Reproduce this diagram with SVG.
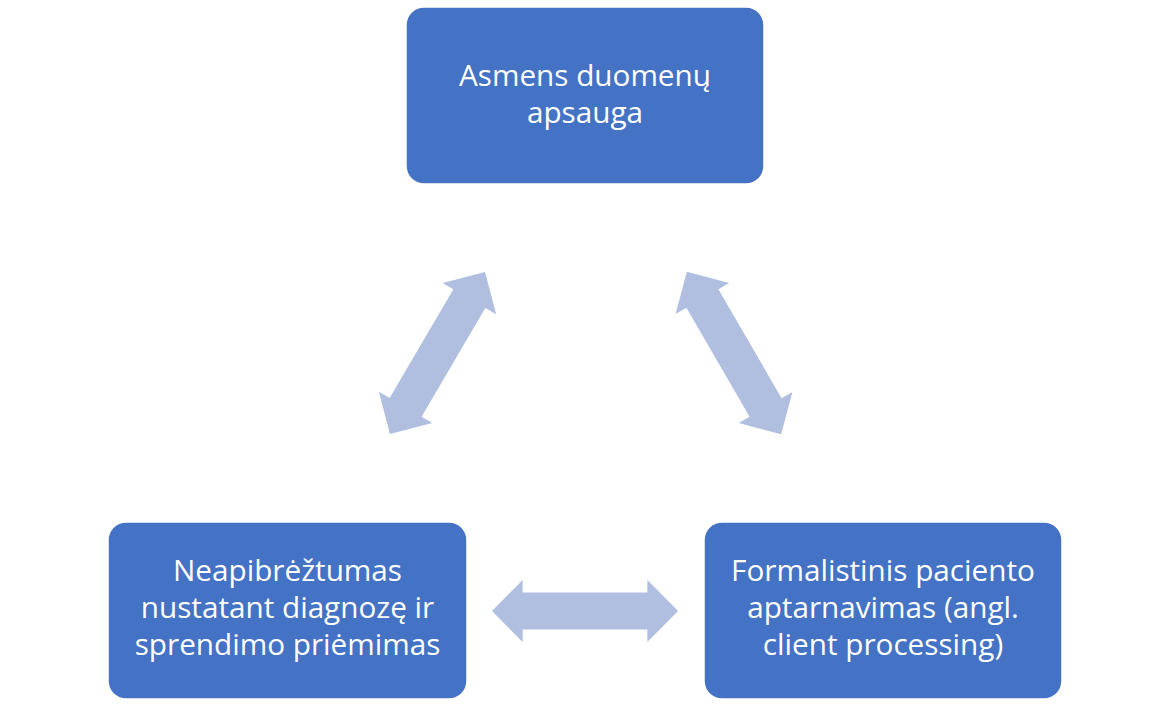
<svg xmlns="http://www.w3.org/2000/svg" width="1157" height="707" viewBox="0 0 1157 707">
  <style>
    .box { fill: #4472C4; stroke: #FFFFFF; stroke-width: 1.5; }
    .lbl { fill: #FFFFFF; font-family: "Open Sans", "Liberation Sans", sans-serif; font-size: 29.7px; text-anchor: middle; }
    .arrow { fill: #B0BEE0; }
  </style>
  <defs>
    <!-- double-headed block arrow centred on the origin -->
    <polygon id="dblArrow" points="-94,0 -63,-31 -63,-18.5 63,-18.5 63,-31 94,0 63,31 63,18.5 -63,18.5 -63,31"/>
  </defs>
  <rect width="1157" height="707" fill="#FFFFFF"/>

  <g id="connectors" class="arrow">
    <use href="#dblArrow" transform="translate(437.5,353) rotate(-59.6)"/>
    <use href="#dblArrow" transform="translate(734,353) rotate(59.9)"/>
    <use href="#dblArrow" transform="translate(585,611) scale(0.99,1)"/>
  </g>

  <g id="node-data-protection">
    <rect class="box" x="406" y="7" width="358" height="177" rx="18"/>
    <text class="lbl" x="585" y="86">Asmens duomenų</text>
    <text class="lbl" x="585" y="123">apsauga</text>
  </g>

  <g id="node-uncertainty">
    <rect class="box" x="108" y="522" width="359" height="177" rx="18"/>
    <text class="lbl" x="287.5" y="581">Neapibrėžtumas</text>
    <text class="lbl" x="287.5" y="618">nustatant diagnozę ir</text>
    <text class="lbl" x="287.5" y="655">sprendimo priėmimas</text>
  </g>

  <g id="node-formalistic-service">
    <rect class="box" x="704" y="522" width="358" height="177" rx="18"/>
    <text class="lbl" x="883" y="581">Formalistinis paciento</text>
    <text class="lbl" x="883" y="618">aptarnavimas (angl.</text>
    <text class="lbl" x="883" y="655">client processing)</text>
  </g>
</svg>
